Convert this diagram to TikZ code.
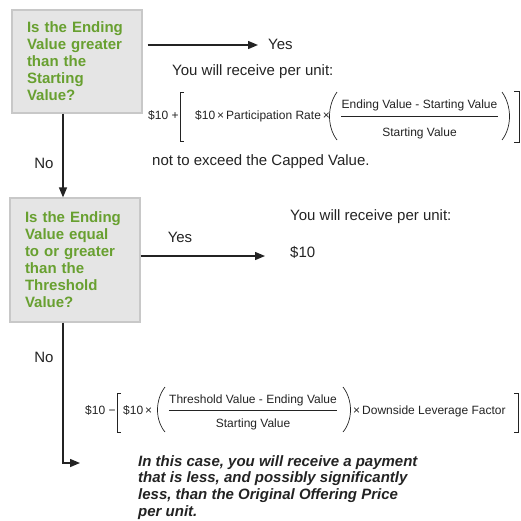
\documentclass[tikz,border=0pt]{standalone}
\usepackage{fontspec}
\setmainfont{Liberation Sans}
\usetikzlibrary{arrows.meta}

\definecolor{boxfill}{RGB}{229,229,229}
\definecolor{boxedge}{RGB}{200,200,200}
\definecolor{qgreen}{RGB}{104,160,48}
\definecolor{ink}{RGB}{35,35,35}

\begin{document}
\begin{tikzpicture}[x=1pt,y=-1pt,
  question/.style={draw=boxedge, line width=1.2pt, fill=boxfill, text=qgreen,
    font=\fontsize{15}{17}\selectfont\bfseries, align=left, text width=100pt,
    inner xsep=15pt, inner ysep=0pt},
  label/.style={text=ink, font=\fontsize{15}{17}\selectfont, inner sep=0pt},
  formula/.style={text=ink, font=\fontsize{12}{14}\selectfont, inner sep=0pt},
  flow/.style={draw=ink, line width=1.4pt, -{Triangle[length=10pt,width=8pt]}},
  delim/.style={draw=ink, line width=0.7pt}]

\useasboundingbox (0,0) rectangle (521,520);

% the two questions
\node[question, minimum height=103pt] (ask_gain) at (77,61.5) {Is the Ending\\Value greater\\than the\\Starting\\Value?};
\node[question, minimum height=124pt] (ask_thresh) at (75,260) {Is the Ending\\Value equal\\to or greater\\than the\\Threshold\\Value?};

\coordinate (stem) at (63,0);

% yes on the first question
\node[label, anchor=west] (yes_gain) at (268,44) {Yes};
\coordinate (yes_gain_end) at (258,45);
\draw[flow] ([xshift=5pt]ask_gain.east |- yes_gain_end) -- (yes_gain_end);
\node[label, anchor=west] (receive_gain) at (172,72) {You will receive per unit:};

\node[formula, anchor=base west] (base_gain) at (148,119) {\$10 +};
\draw[delim] (184,92) -- (180,92) -- (180,141) -- (184,141);
\node[formula, anchor=base west] (rate_gain) at (195,119) {\$10\,×\,Participation Rate\,×};
\draw[delim] (337,92) .. controls (327,106) and (327,127) .. (337,140);
\node[formula, anchor=base] (num_gain) at (419.5,108) {Ending Value - Starting Value};
\draw[delim] (num_gain.west |- 0,116) -- (num_gain.east |- 0,116);
\node[formula, anchor=base] (den_gain) at (419.5,136) {Starting Value};
\draw[delim] (502,92) .. controls (512,106) and (512,127) .. (502,140);
\draw[delim] (514,91) -- (519,91) -- (519,142) -- (514,142);

\node[label, anchor=west] (cap_gain) at (152,162) {not to exceed the Capped Value.};

% no on the first question
\node[label] (no_gain) at (44,163) {No};
\draw[flow] (ask_gain.south -| stem) -- (ask_thresh.north -| stem);

% yes on the second question
\node[label] (yes_thresh) at (180,237) {Yes};
\coordinate (yes_thresh_end) at (265,256);
\draw[flow] (ask_thresh.east |- yes_thresh_end) -- (yes_thresh_end);
\node[label, anchor=west] (receive_thresh) at (290,217) {You will receive per unit:};
\node[label, anchor=west] (par_thresh) at (290,252) {\$10};

% no on the second question
\node[label] (no_thresh) at (44,357) {No};
\coordinate (no_thresh_end) at (80,463);
\draw[flow] (ask_thresh.south -| stem) |- (no_thresh_end);

\node[formula, anchor=base west] (base_thresh) at (85,414) {\$10 −};
\draw[delim] (121,393) -- (117,393) -- (117,432) -- (121,432);
\node[formula, anchor=base west] (rate_thresh) at (123,414) {\$10\,×};
\draw[delim] (165,387) .. controls (155,400) and (155,420) .. (165,432);
\node[formula, anchor=base] (num_thresh) at (253,403) {Threshold Value - Ending Value};
\draw[delim] (num_thresh.west |- 0,410) -- (num_thresh.east |- 0,410);
\node[formula, anchor=base] (den_thresh) at (253,427) {Starting Value};
\draw[delim] (343,387) .. controls (353,400) and (353,420) .. (343,432);
\node[formula, anchor=base west] (factor_thresh) at (353,414) {×\,Downside Leverage Factor};
\draw[delim] (514,393) -- (518,393) -- (518,432) -- (514,432);

\node[text=ink, font=\fontsize{15}{16.7}\selectfont\bfseries\itshape, align=left,
  anchor=north west, inner sep=0pt] (outcome) at (138,455)
  {In this case, you will receive a payment\\that is less, and possibly significantly\\less, than the Original Offering Price\\per unit.};

\end{tikzpicture}
\end{document}
